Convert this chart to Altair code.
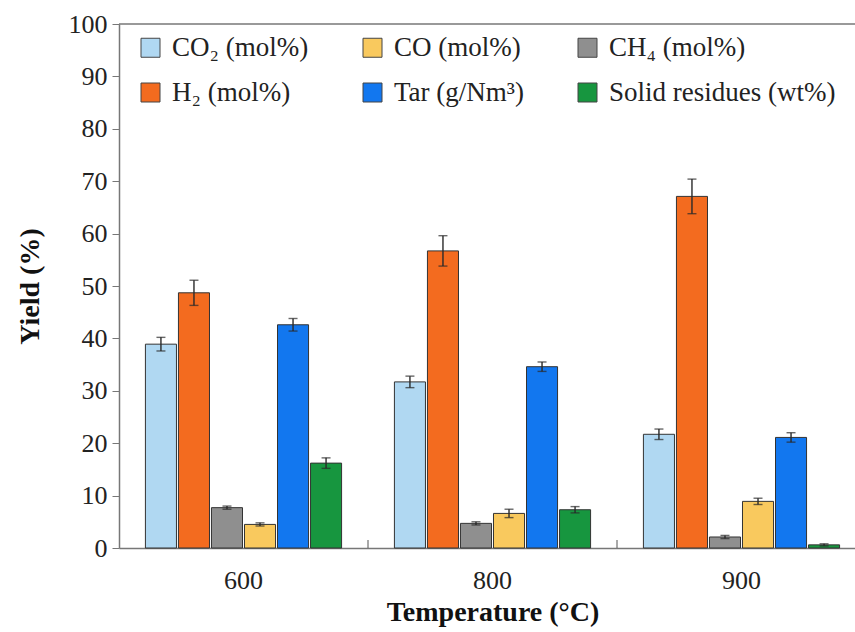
import altair as alt
import pandas as pd

# Reaction temperatures (°C) and product series
temperatures = ["600", "800", "900"]
series = ["CO₂ (mol%)", "H₂ (mol%)", "CH₄ (mol%)", "CO (mol%)",
          "Tar (g/Nm³)", "Solid residues (wt%)"]
# Legend entries fill column by column in a 3-column grid
legend_order = ["CO₂ (mol%)", "H₂ (mol%)", "CO (mol%)",
                "Tar (g/Nm³)", "CH₄ (mol%)", "Solid residues (wt%)"]
legend_colors = ["#b0d8f2", "#f36b1f", "#f9c95e", "#1277ef", "#8f8f8f", "#17963f"]

# Mean yields per temperature (600, 800, 900)
co2 = [38.9, 31.7, 21.7]
h2 = [48.7, 56.7, 67.1]
ch4 = [7.7, 4.7, 2.1]
co = [4.5, 6.6, 8.9]
tar = [42.6, 34.6, 21.1]
solid = [16.2, 7.3, 0.6]

# Standard deviations
co2_err = [1.3, 1.1, 1.0]
h2_err = [2.4, 2.9, 3.3]
ch4_err = [0.3, 0.3, 0.3]
co_err = [0.3, 0.8, 0.6]
tar_err = [1.2, 0.9, 0.9]
solid_err = [1.0, 0.6, 0.2]

values = [co2, h2, ch4, co, tar, solid]
errors = [co2_err, h2_err, ch4_err, co_err, tar_err, solid_err]

rows = []
for name, vals, errs in zip(series, values, errors):
    for t, v, e in zip(temperatures, vals, errs):
        rows.append({"Temperature": t, "Series": name, "Yield": v,
                     "lo": v - e, "hi": v + e})
df = pd.DataFrame(rows)

FONT = "Liberation Serif"
W, H = 736, 524
BAND_RANGE = 747

x_enc = alt.X("Temperature:N", sort=temperatures,
              scale=alt.Scale(range=[0, BAND_RANGE], paddingInner=0, paddingOuter=0),
              axis=alt.Axis(title="Temperature (°C)", labelAngle=0, ticks=False,
                            tickSize=0, labelPadding=19, labelFontSize=26,
                            titleFontSize=28, titleFontWeight="bold",
                            titlePadding=5))
xoff = alt.XOffset("Series:N", sort=series,
                   scale=alt.Scale(paddingInner=0.06, paddingOuter=0.8))

base = alt.Chart(df)

bars = base.mark_bar(stroke="#333333", strokeWidth=1).encode(
    x=x_enc,
    xOffset=xoff,
    y=alt.Y("Yield:Q", scale=alt.Scale(domain=[0, 100], nice=False),
            axis=alt.Axis(values=list(range(0, 101, 10)), title="Yield (%)",
                          grid=False, tickSize=7, labelPadding=5,
                          labelFontSize=26, titleFontSize=28,
                          titleFontWeight="bold", titlePadding=24)),
    color=alt.Color("Series:N",
                    scale=alt.Scale(domain=legend_order, range=legend_colors),
                    legend=alt.Legend(orient="none", legendX=18, legendY=10,
                                      columns=3, title=None, padding=0,
                                      symbolType="square", symbolSize=361,
                                      symbolStrokeColor="#444",
                                      symbolStrokeWidth=1, symbolOpacity=1,
                                      labelFont=FONT, labelFontSize=27,
                                      labelColor="#222", labelOffset=8,
                                      labelLimit=400, rowPadding=17,
                                      columnPadding=50, gridAlign="each")),
)

err_line = base.mark_rule(color="#2a2a2a", strokeWidth=1.4).encode(
    x=alt.X("Temperature:N", sort=temperatures),
    xOffset=xoff,
    y="lo:Q",
    y2="hi:Q",
)
cap_lo = base.mark_tick(color="#2a2a2a", size=9, thickness=1.4).encode(
    x=alt.X("Temperature:N", sort=temperatures),
    xOffset=xoff,
    y="lo:Q",
)
cap_hi = base.mark_tick(color="#2a2a2a", size=9, thickness=1.4).encode(
    x=alt.X("Temperature:N", sort=temperatures),
    xOffset=xoff,
    y="hi:Q",
)

# Short upward ticks marking the boundaries between temperature groups
bounds = alt.Chart(pd.DataFrame({"Temperature": temperatures[1:]})).mark_rule(
    color="#555", strokeWidth=1).encode(
    x=alt.X("Temperature:N", sort=temperatures, bandPosition=0),
    y=alt.value(H),
    y2=alt.value(H - 8),
)

# Frame line along the top of the plot
top_line = alt.Chart(pd.DataFrame({"k": [0]})).mark_rule(
    color="#777", strokeWidth=1.5).encode(
    x=alt.value(0), x2=alt.value(BAND_RANGE), y=alt.value(0))

chart = alt.layer(bars, err_line, cap_lo, cap_hi, bounds, top_line).properties(
    width=W, height=H,
    autosize=alt.AutoSizeParams(type="none"),
    padding={"left": 119, "top": 24, "right": 0, "bottom": 84},
    background="white",
).configure_view(stroke=None).configure_axis(
    labelFont=FONT, titleFont=FONT, labelColor="#222", titleColor="#111",
    domainColor="#777", tickColor="#777", domainWidth=1.5,
)

chart.save("out.html", embed_options={"renderer": "svg", "actions": False})
